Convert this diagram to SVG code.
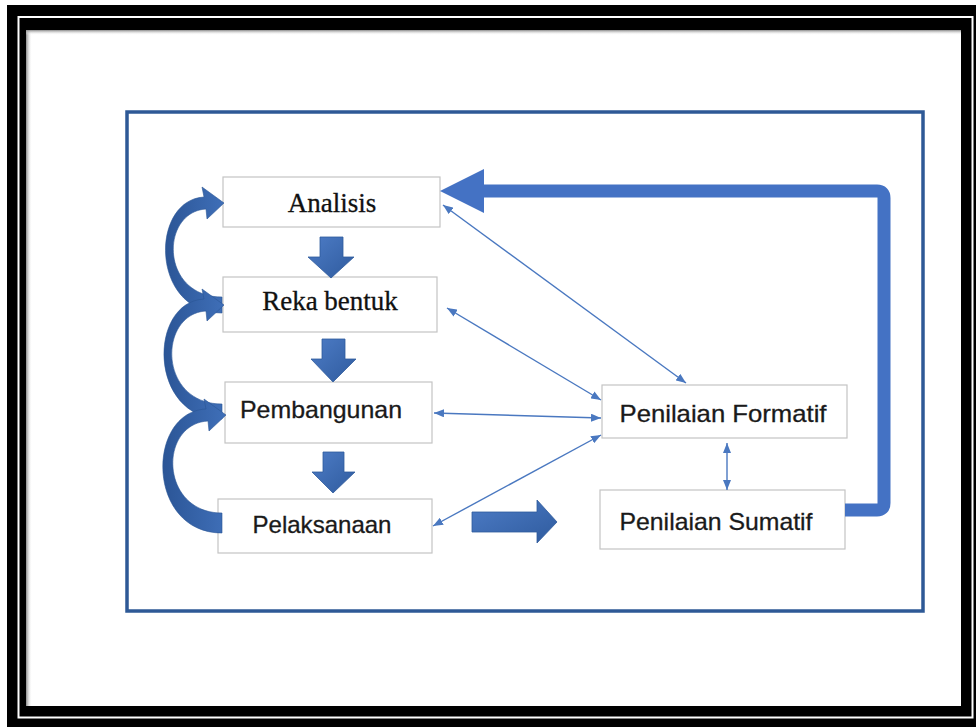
<svg xmlns="http://www.w3.org/2000/svg" width="976" height="727" viewBox="0 0 976 727">
<style>
.box{fill:#ffffff;stroke:#c4c4c4;stroke-width:1.2}
.serif{font-family:"Liberation Serif","Times New Roman",serif;font-size:27px;fill:#111111;stroke:#111111;stroke-width:0.3;text-anchor:middle}
.sans{font-family:"Liberation Sans",Arial,sans-serif;font-size:24px;fill:#1a1a1a;stroke:#1a1a1a;stroke-width:0.3;text-anchor:middle}
.thin{fill:none;stroke:#4a78c0;stroke-width:1.4;marker-start:url(#ah);marker-end:url(#ah)}
.block{fill:url(#gblk);stroke:#2f5a9c;stroke-width:0.8}
.curve{fill:url(#gcur);stroke:#2a5596;stroke-width:0.6}
</style>
<defs>
<marker id="ah" viewBox="0 0 10 8" refX="10" refY="4" markerWidth="10" markerHeight="8" markerUnits="userSpaceOnUse" orient="auto-start-reverse">
<path d="M0,0 L10,4 L0,8 z" fill="#4a78c0"/>
</marker>
<linearGradient id="gblk" x1="0" y1="0" x2="1" y2="1">
<stop offset="0" stop-color="#4d7cc6"/>
<stop offset="1" stop-color="#2f5b9e"/>
</linearGradient>
<linearGradient id="gcur" x1="0" y1="0" x2="1" y2="0">
<stop offset="0" stop-color="#2b5596"/>
<stop offset="1" stop-color="#3f6fb8"/>
</linearGradient>
<linearGradient id="shL" x1="0" y1="0" x2="1" y2="0">
<stop offset="0" stop-color="#8a8a8a"/>
<stop offset="1" stop-color="#ffffff" stop-opacity="0"/>
</linearGradient>
<linearGradient id="shT" x1="0" y1="0" x2="0" y2="1">
<stop offset="0" stop-color="#8a8a8a"/>
<stop offset="1" stop-color="#ffffff" stop-opacity="0"/>
</linearGradient>
</defs>

<g id="frame">
<rect x="0" y="0" width="976" height="727" fill="#ffffff"/>
<rect x="7" y="5" width="969" height="722" fill="#000000"/>
<rect x="18.5" y="17" width="954" height="700.5" fill="none" stroke="#ffffff" stroke-width="2"/>
<rect x="26" y="30" width="935" height="676" fill="#ffffff"/>
<rect x="26" y="30" width="6" height="676" fill="url(#shL)"/>
<rect x="26" y="30" width="935" height="5" fill="url(#shT)"/>
<rect x="127" y="112" width="796" height="499" fill="none" stroke="#2e5996" stroke-width="3.5"/>
</g>

<g id="node-analisis">
<rect class="box" x="223" y="177" width="217" height="50"/>
<text class="serif" x="332" y="212">Analisis</text>
</g>
<g id="node-reka">
<rect class="box" x="223" y="277" width="214" height="55"/>
<text class="serif" x="330" y="310">Reka bentuk</text>
</g>
<g id="node-pembangunan">
<rect class="box" x="225" y="382" width="207" height="61"/>
<text class="sans" x="321" y="418" textLength="162" lengthAdjust="spacingAndGlyphs">Pembangunan</text>
</g>
<g id="node-pelaksanaan">
<rect class="box" x="218" y="499" width="214" height="54"/>
<text class="sans" x="322" y="533" textLength="139" lengthAdjust="spacingAndGlyphs">Pelaksanaan</text>
</g>
<g id="node-formatif">
<rect class="box" x="602" y="385" width="245" height="53"/>
<text class="sans" x="723" y="422" textLength="207" lengthAdjust="spacingAndGlyphs">Penilaian Formatif</text>
</g>
<g id="node-sumatif">
<rect class="box" x="600" y="490" width="245" height="59"/>
<text class="sans" x="716" y="530" textLength="193" lengthAdjust="spacingAndGlyphs">Penilaian Sumatif</text>
</g>

<g id="connectors">
<path d="M845,510 H877 Q884,510 884,503 V198 Q884,191 877,191 H478" fill="none" stroke="#4472c4" stroke-width="13"/>
<polygon points="440,191 484,169 484,213" fill="#4472c4"/>

<polygon class="block" points="320,237 343,237 343,257 354,257 331,278 308,257 320,257"/>
<polygon class="block" points="322,339 345,339 345,359 356,359 333,382 311,359 322,359"/>
<polygon class="block" points="323,452 344,452 344,472 355,472 333,493 312,472 323,472"/>
<polygon class="block" points="472,512 537,512 537,500 557,522 537,543 537,532 472,532"/>

<path class="curve" d="M222,313 C150,313 150,200 204,197 L202,187 L224,203 L207,219 L206,209 C160,212 160,297 222,297 Z"/>
<path class="curve" d="M222,419 C148,419 148,302 204,299 L202,289 L224,305 L207,321 L206,311 C158,314 158,404 222,404 Z"/>
<path class="curve" d="M222,533 C146,533 146,412 206,409 L204,399 L226,415 L209,431 L208,421 C158,424 160,513 222,513 Z"/>

<line class="thin" x1="443" y1="205" x2="686" y2="383"/>
<line class="thin" x1="447" y1="308" x2="601" y2="400"/>
<line class="thin" x1="434" y1="413" x2="601" y2="418"/>
<line class="thin" x1="433" y1="526" x2="601" y2="435"/>
<line class="thin" x1="727" y1="443" x2="727" y2="490"/>
</g>
</svg>
